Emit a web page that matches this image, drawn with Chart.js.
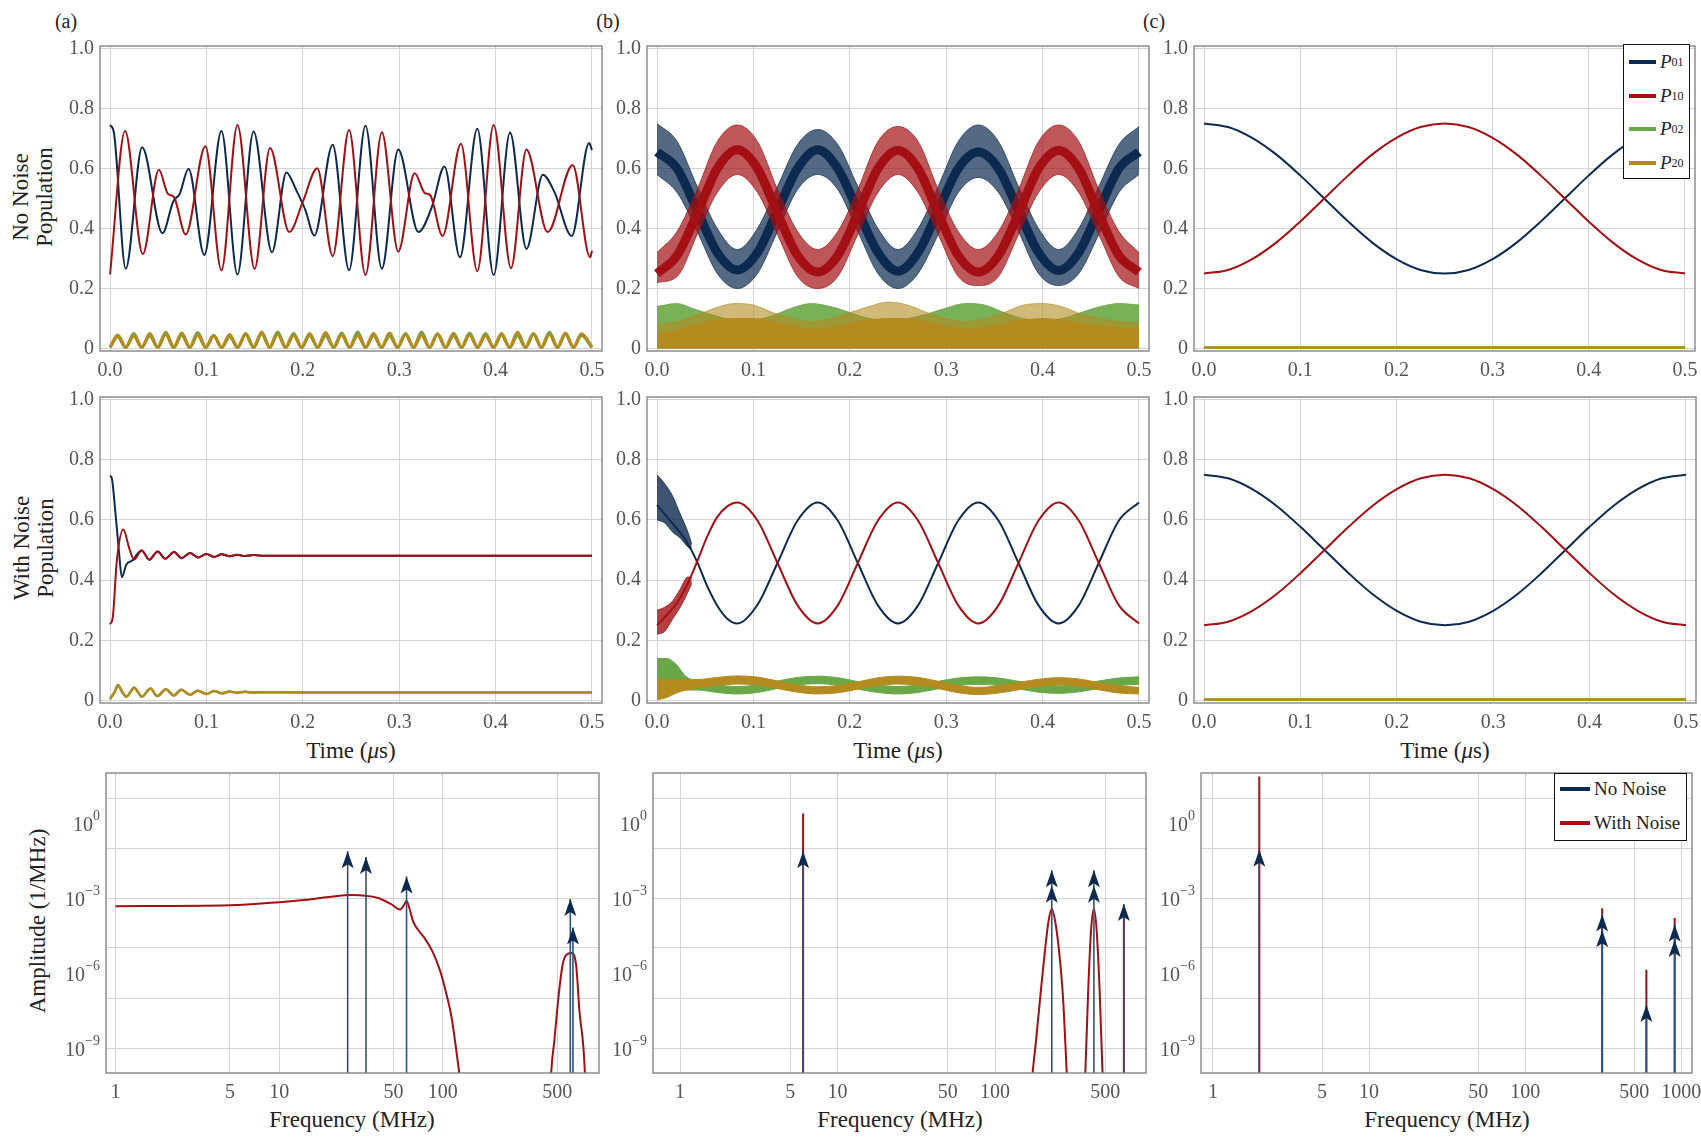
<!DOCTYPE html>
<html>
<head>
<meta charset="utf-8">
<script src="https://cdn.jsdelivr.net/npm/chart.js@4.4.1/dist/chart.umd.min.js"></script>
<style>
  body { margin: 0; background: #fff; width: 1701px; height: 1139px; position: relative; overflow: hidden;
         font-family: "Liberation Serif", "Times New Roman", serif; color: #222; }
  canvas { position: absolute; }
  .t { position: absolute; white-space: nowrap; transform: translate(-50%, -50%); font-size: 23px; line-height: 24px; text-align: center; }
  .r { transform: translate(-50%, -50%) rotate(-90deg); }
  .lab { font-size: 20px; }
  .leg { position: absolute; background: #fff; border: 1.5px solid #111; box-sizing: border-box; z-index: 5; }
  .row { position: absolute; left: 5px; height: 22px; display: flex; align-items: center; font-size: 19px; white-space: nowrap; }
  .sw { display: inline-block; height: 4px; margin-right: 4px; }
  sub { font-size: 12px; vertical-align: -3px; font-style: normal; }
</style>
</head>
<body>
<div class="t lab" style="left:66px;top:21px">(a)</div>
<div class="t lab" style="left:608px;top:21px">(b)</div>
<div class="t lab" style="left:1154px;top:21px">(c)</div>

<div class="t r" style="left:33px;top:197px">No Noise<br>Population</div>
<div class="t r" style="left:34px;top:548px">With Noise<br>Population</div>
<div class="t r" style="left:38px;top:921px">Amplitude (1/MHz)</div>

<div class="t" style="left:351px;top:751px">Time (<i>μ</i>s)</div>
<div class="t" style="left:898px;top:751px">Time (<i>μ</i>s)</div>
<div class="t" style="left:1445px;top:751px">Time (<i>μ</i>s)</div>
<div class="t" style="left:352px;top:1120px">Frequency (MHz)</div>
<div class="t" style="left:900px;top:1120px">Frequency (MHz)</div>
<div class="t" style="left:1447px;top:1120px">Frequency (MHz)</div>

<div class="leg" style="left:1623px;top:44px;width:67px;height:135px">
  <div class="row" style="top:6px"><span class="sw" style="width:27px;background:#0c2a50"></span><i>P</i><sub>01</sub></div>
  <div class="row" style="top:40px"><span class="sw" style="width:27px;background:#a30f13"></span><i>P</i><sub>10</sub></div>
  <div class="row" style="top:73px"><span class="sw" style="width:27px;background:#6aa847"></span><i>P</i><sub>02</sub></div>
  <div class="row" style="top:107px"><span class="sw" style="width:27px;background:#b38b1f"></span><i>P</i><sub>20</sub></div>
</div>
<div class="leg" style="left:1554px;top:773px;width:133px;height:68px">
  <div class="row" style="top:4px"><span class="sw" style="width:30px;background:#0c2a50"></span>No Noise</div>
  <div class="row" style="top:38px"><span class="sw" style="width:30px;background:#a30f13"></span>With Noise</div>
</div>

<script>
const NAVY = '#0c2a50', RED = '#a30f13', GREEN = '#6aa847', GOLD = '#b38b1f', STEM = '#2d5281';
const GRID = '#d4d4d4', FRAME = '#858585', TICK = '#555';
const FONT = '"Liberation Serif", "Times New Roman", serif';

// axis ticks
const timeTicks = [0, 0.1, 0.2, 0.3, 0.4, 0.5];
const popTicks = [0, 0.2, 0.4, 0.6, 0.8, 1.0];
const freqTicksAB = [1, 5, 10, 50, 100, 500];
const freqTicksC = [1, 5, 10, 50, 100, 500, 1000];
const ampGrid = [1e-9, 1e-7, 1e-5, 1e-3, 1e-1, 1e1];
const ampLabelPowers = [0, -3, -6, -9];

// (a) no noise: [t, P]
const aTopP01 = [[0,0.745],[0.004,0.72],[0.0163,0.266],[0.0333,0.671],[0.0544,0.384],[0.0656,0.49],[0.0722,0.515],[0.0815,0.599],
  [0.0978,0.312],[0.1156,0.725],[0.1322,0.247],[0.1489,0.723],[0.168,0.321],[0.183,0.587],[0.1933,0.527],[0.2026,0.462],[0.212,0.377],
  [0.231,0.679],[0.248,0.261],[0.265,0.742],[0.282,0.266],[0.299,0.663],[0.32,0.388],[0.334,0.473],[0.347,0.607],[0.363,0.304],
  [0.381,0.732],[0.398,0.245],[0.415,0.72],[0.432,0.332],[0.449,0.579],[0.461,0.522],[0.479,0.375],[0.497,0.685],[0.5,0.661]];
const aTopP10 = [[0,0.247],[0.0156,0.725],[0.034,0.315],[0.0507,0.596],[0.06,0.516],[0.0663,0.505],[0.0785,0.38],[0.0989,0.674],
  [0.1156,0.261],[0.1322,0.745],[0.15,0.266],[0.166,0.668],[0.186,0.388],[0.2,0.489],[0.215,0.601],[0.231,0.308],[0.248,0.728],
  [0.265,0.245],[0.282,0.721],[0.299,0.323],[0.316,0.584],[0.3267,0.518],[0.3322,0.511],[0.345,0.375],[0.364,0.682],[0.381,0.258],
  [0.398,0.745],[0.416,0.268],[0.432,0.663],[0.454,0.388],[0.48,0.612],[0.498,0.304],[0.5,0.326]];
const aTopPeakT = [0.008,0.0246,0.0412,0.0578,0.0744,0.091,0.1075,0.1241,0.1407,0.1573,0.1739,0.1905,0.2071,0.2237,0.2403,
  0.2569,0.2734,0.29,0.3066,0.3232,0.3398,0.3564,0.373,0.3896,0.4062,0.4228,0.4393,0.4559,0.4725,0.4891];
const aTopTroughT = [0,0.0163,0.0329,0.0495,0.0661,0.0827,0.0993,0.1158,0.1324,0.149,0.1656,0.1822,0.1988,0.2154,0.232,0.2486,
  0.2652,0.2817,0.2983,0.3149,0.3315,0.3481,0.3647,0.3813,0.3979,0.4145,0.4311,0.4476,0.4642,0.4808,0.5];
const aTopP02Peak = [0.04,0.05,0.042,0.054,0.045,0.053,0.044,0.04,0.047,0.05,0.055,0.05,0.044,0.043,0.052,0.055,0.045,0.042,
  0.05,0.055,0.048,0.044,0.052,0.05,0.046,0.043,0.05,0.054,0.047,0.044];
const aTopP20Peak = [0.045,0.042,0.05,0.048,0.052,0.045,0.043,0.047,0.05,0.055,0.048,0.045,0.05,0.053,0.046,0.044,0.05,0.052,
  0.047,0.045,0.049,0.051,0.046,0.045,0.05,0.054,0.048,0.047,0.052,0.049];
const aTopTrough = 0.004;

// (a) with noise
const aMidP01 = [[0,0.747],[0.002,0.737],[0.005,0.645],[0.009,0.505],[0.0123,0.41],[0.017,0.452],[0.023,0.465]];
const aMidP10 = [[0,0.253],[0.003,0.28],[0.007,0.462],[0.0138,0.568],[0.02,0.505],[0.025,0.468]];
const aMidTail = [[0.0328,0.498],[0.0407,0.468],[0.0494,0.495],[0.0573,0.471],[0.0664,0.493],[0.0743,0.473],[0.083,0.49],
  [0.0913,0.475],[0.1,0.487],[0.108,0.477],[0.116,0.486],[0.124,0.479],[0.132,0.484],[0.14,0.48],[0.149,0.483],[0.16,0.481],
  [0.2,0.481],[0.5,0.481]];
const aMidP20 = [[0,0.005],[0.005,0.03],[0.0083,0.052],[0.012,0.032],[0.017,0.013],[0.025,0.043],[0.033,0.013],[0.042,0.04],
  [0.049,0.015],[0.058,0.038],[0.066,0.017],[0.074,0.036],[0.083,0.019],[0.091,0.033],[0.1,0.022],[0.108,0.032],[0.116,0.024],
  [0.124,0.03],[0.132,0.026],[0.14,0.029],[0.149,0.027],[0.16,0.028],[0.2,0.027],[0.5,0.027]];

// (b) no noise: fast-oscillating bands [t, low, middle, high]
const bTopP01 = [[0,0.58,0.655,0.75],[0.0208,0.52,0.6,0.69],[0.0417,0.39,0.46,0.54],[0.0625,0.25,0.32,0.4],[0.0833,0.2,0.262,0.33],
  [0.1042,0.25,0.32,0.4],[0.125,0.39,0.46,0.54],[0.1458,0.53,0.6,0.68],[0.1667,0.58,0.662,0.73],[0.1875,0.53,0.6,0.68],
  [0.2083,0.39,0.46,0.54],[0.2292,0.25,0.32,0.4],[0.25,0.2,0.258,0.33],[0.2708,0.25,0.32,0.4],[0.2917,0.38,0.46,0.54],
  [0.3125,0.52,0.6,0.69],[0.3333,0.57,0.655,0.745],[0.3542,0.52,0.6,0.69],[0.375,0.39,0.46,0.54],[0.3958,0.25,0.32,0.4],
  [0.4167,0.21,0.26,0.33],[0.4375,0.25,0.32,0.4],[0.4583,0.38,0.46,0.54],[0.4792,0.52,0.6,0.68],[0.5,0.58,0.655,0.74]];
const bTopP10 = [[0,0.22,0.25,0.32],[0.0208,0.24,0.31,0.39],[0.0417,0.38,0.45,0.53],[0.0625,0.52,0.6,0.69],[0.0833,0.58,0.662,0.745],
  [0.1042,0.52,0.6,0.69],[0.125,0.38,0.45,0.53],[0.1458,0.24,0.31,0.39],[0.1667,0.2,0.255,0.33],[0.1875,0.24,0.31,0.39],
  [0.2083,0.38,0.45,0.53],[0.2292,0.52,0.6,0.69],[0.25,0.58,0.66,0.74],[0.2708,0.52,0.6,0.69],[0.2917,0.38,0.45,0.53],
  [0.3125,0.24,0.31,0.39],[0.3333,0.21,0.255,0.33],[0.3542,0.24,0.31,0.39],[0.375,0.38,0.45,0.53],[0.3958,0.52,0.6,0.69],
  [0.4167,0.58,0.66,0.745],[0.4375,0.52,0.6,0.69],[0.4583,0.38,0.45,0.53],[0.4792,0.24,0.31,0.39],[0.5,0.2,0.255,0.32]];
const bTopT = [0,0.02,0.04,0.06,0.08,0.1,0.12,0.14,0.16,0.18,0.2,0.22,0.24,0.26,0.28,0.3,0.32,0.34,0.36,0.38,0.4,0.42,0.44,0.46,0.48,0.5];
const bTopP02High = [0.14,0.15,0.13,0.11,0.095,0.095,0.11,0.135,0.15,0.14,0.12,0.1,0.095,0.1,0.115,0.135,0.15,0.145,0.12,0.1,0.095,0.1,0.12,0.14,0.15,0.145];
const bTopP20High = [0.08,0.09,0.11,0.135,0.15,0.145,0.12,0.1,0.09,0.1,0.12,0.14,0.155,0.145,0.12,0.1,0.09,0.1,0.12,0.145,0.15,0.14,0.115,0.1,0.09,0.085];
const bTopP20Core = [0.05,0.06,0.08,0.095,0.1,0.1,0.09,0.075,0.065,0.07,0.085,0.095,0.1,0.1,0.09,0.075,0.065,0.07,0.085,0.095,0.1,0.095,0.085,0.075,0.07,0.065];

// (b) with noise
const bMidP01 = [[0,0.65],[0.0104,0.61],[0.0208,0.57],[0.0313,0.525],[0.0417,0.46],[0.0521,0.38],[0.0625,0.315],[0.0729,0.272],
  [0.0833,0.256],[0.1042,0.318],[0.125,0.457],[0.1458,0.598],[0.1667,0.658],[0.1875,0.598],[0.2083,0.457],[0.2292,0.316],
  [0.25,0.256],[0.2708,0.316],[0.2917,0.457],[0.3125,0.598],[0.3333,0.658],[0.3542,0.598],[0.375,0.457],[0.3958,0.316],
  [0.4167,0.256],[0.4375,0.316],[0.4583,0.457],[0.4792,0.598],[0.5,0.658]];
const bMidP10 = [[0,0.25],[0.0104,0.285],[0.0208,0.325],[0.0313,0.385],[0.0417,0.462],[0.0521,0.545],[0.0625,0.61],[0.0729,0.645],
  [0.0833,0.658],[0.1042,0.598],[0.125,0.457],[0.1458,0.316],[0.1667,0.256],[0.1875,0.316],[0.2083,0.457],[0.2292,0.598],
  [0.25,0.658],[0.2708,0.598],[0.2917,0.457],[0.3125,0.316],[0.3333,0.256],[0.3542,0.316],[0.375,0.457],[0.3958,0.598],
  [0.4167,0.658],[0.4375,0.598],[0.4583,0.457],[0.4792,0.316],[0.5,0.256]];
const bMidP01Early = [[0,0.6,0.75],[0.008,0.59,0.72],[0.016,0.56,0.68],[0.024,0.54,0.62],[0.032,0.51,0.56],[0.036,0.5,0.52]];
const bMidP10Early = [[0,0.22,0.3],[0.008,0.23,0.31],[0.016,0.27,0.33],[0.024,0.31,0.37],[0.032,0.36,0.41],[0.036,0.39,0.41]];
const bMidP02 = [[0,0.02,0.14],[0.01,0.025,0.14],[0.02,0.03,0.12],[0.03,0.035,0.08],[0.0417,0.035,0.065],[0.0625,0.027,0.052],
  [0.0833,0.022,0.047],[0.1042,0.027,0.052],[0.125,0.04,0.065],[0.1458,0.052,0.077],[0.1667,0.056,0.081],[0.1875,0.051,0.076],
  [0.2083,0.038,0.063],[0.2292,0.027,0.052],[0.25,0.022,0.047],[0.2708,0.027,0.052],[0.2917,0.039,0.064],[0.3125,0.05,0.075],
  [0.3333,0.054,0.079],[0.3542,0.05,0.075],[0.375,0.039,0.064],[0.3958,0.028,0.053],[0.4167,0.024,0.049],[0.4375,0.029,0.054],
  [0.4583,0.04,0.065],[0.4792,0.05,0.075],[0.5,0.054,0.079]];
const bMidP20 = [[0,0.003,0.075],[0.01,0.01,0.07],[0.02,0.025,0.07],[0.03,0.035,0.07],[0.0417,0.042,0.07],[0.0625,0.05,0.077],
  [0.0833,0.055,0.082],[0.1042,0.052,0.078],[0.125,0.04,0.065],[0.1458,0.028,0.052],[0.1667,0.022,0.046],[0.1875,0.026,0.05],
  [0.2083,0.038,0.062],[0.2292,0.05,0.076],[0.25,0.055,0.081],[0.2708,0.051,0.077],[0.2917,0.04,0.064],[0.3125,0.026,0.05],
  [0.3333,0.02,0.044],[0.3542,0.025,0.049],[0.375,0.036,0.06],[0.3958,0.047,0.071],[0.4167,0.052,0.076],[0.4375,0.048,0.072],
  [0.4583,0.036,0.06],[0.4792,0.025,0.049],[0.5,0.022,0.044]];

// (c) both rows
const cT = [0,0.025,0.05,0.075,0.1,0.125,0.15,0.175,0.2,0.225,0.25,0.275,0.3,0.325,0.35,0.375,0.4,0.425,0.45,0.475,0.5];
const cP01 = [0.75,0.738,0.702,0.647,0.577,0.5,0.423,0.353,0.298,0.262,0.25,0.262,0.298,0.353,0.423,0.5,0.577,0.647,0.702,0.738,0.75];
const cP10 = [0.25,0.262,0.298,0.353,0.423,0.5,0.577,0.647,0.702,0.738,0.75,0.738,0.702,0.647,0.577,0.5,0.423,0.353,0.298,0.262,0.25];
const cP02 = [[0,0.004],[0.5,0.004]];
const cP20 = [[0,0.004],[0.5,0.004]];

// spectra: frequency (MHz), amplitude (1/MHz)
const a3Freq = [26.2, 33.9, 60, 601, 624];
const a3Amp = [7.4e-2, 4.4e-2, 7.2e-3, 9.1e-4, 6.6e-5];
const a3NoiseLow = [[1,4.7e-4],[5,5.1e-4],[10,6.8e-4],[14.6,8.5e-4],[20,1.1e-3],[28,1.32e-3],[33.8,1.23e-3],[40.7,9.8e-4],
  [48,5.8e-4],[54.8,3.5e-4],[57.6,5.0e-4],[60,7.8e-4],[62.6,3.7e-4],[66,1.1e-4],[69.6,6.0e-5],[77.6,2.4e-5],[86.5,7.2e-6],
  [96.3,1.2e-6],[104,1.9e-7],[113,1.7e-8],[126,1e-10],[132,1e-11]];
const a3NoiseHump = [[452,1e-11],[459,1e-10],[480,2e-9],[514,2e-7],[539,2.1e-6],[566,5.2e-6],[611,6.3e-6],[652,2.1e-6],
  [683,3.2e-8],[738,1e-10],[745,1e-11]];

const b3Freq = [6.04, 229, 229, 424, 424, 657];
const b3Amp = [7.4e-2, 1.3e-2, 3.1e-3, 1.3e-2, 3.1e-3, 5.8e-4];
const b3NoiseFreq = [6.04, 657];
const b3NoiseAmp = [2.4, 5e-4];
const b3NoiseHump1 = [[168,1e-11],[173,1e-10],[182,2e-9],[197,3.5e-7],[207,7.2e-6],[218,1.1e-4],[229,3.7e-4],[241,1.1e-4],
  [255,7.2e-6],[270,1e-7],[285,1e-10],[290,1e-11]];
const b3NoiseHump2 = [[370,1e-11],[374,1e-10],[390,2e-7],[406,4.4e-5],[424,3.7e-4],[442,4.4e-5],[461,2e-7],[481,1e-10],[486,1e-11]];

const c3Freq = [1.98, 311, 311, 597, 906, 906];
const c3Amp = [8.5e-2, 2.2e-4, 5.1e-5, 5.2e-8, 8.5e-5, 2.1e-5];
const c3NoiseFreq = [1.98, 311, 597, 906];
const c3NoiseAmp = [72, 3.9e-4, 1.35e-6, 1.6e-4];

// layout (plot area edges in page pixels: left, top, right, bottom)
const Y_W = 62, X_H = 34, PAD_T = 14, PAD_R = 18;
const rects = {
  a1: [100, 42, 602, 351], b1: [647, 42, 1149, 351], c1: [1194, 42, 1695, 351],
  a2: [100, 393, 602, 703], b2: [647, 393, 1149, 703], c2: [1194, 393, 1696, 703],
  a3: [106, 769, 599, 1073], b3: [653, 769, 1146, 1073], c3: [1201, 769, 1692, 1073]
};

function rgba(hex, a) {
  const n = parseInt(hex.slice(1), 16);
  return `rgba(${n >> 16},${(n >> 8) & 255},${n & 255},${a})`;
}
const xy = pts => pts.map(p => ({ x: p[0], y: p[1] }));
const zip = (xs, ys) => xs.map((x, i) => [x, ys[i]]);

function line(pts, color, width) {
  return { data: xy(pts), borderColor: color, borderWidth: width, fill: false };
}
function band(rows, color, alpha) {
  return [
    { data: rows.map(r => ({ x: r[0], y: r[r.length - 1] })), borderColor: rgba(color, alpha), borderWidth: 1, fill: false },
    { data: rows.map(r => ({ x: r[0], y: r[1] })), borderColor: rgba(color, alpha), borderWidth: 1, fill: '-1', backgroundColor: rgba(color, alpha) }
  ];
}
function toOrigin(pts, color, alpha) {
  return { data: xy(pts), borderColor: rgba(color, alpha), borderWidth: 1, fill: 'origin', backgroundColor: rgba(color, alpha) };
}
function humps(peaks) {
  const pts = [[aTopTroughT[0], aTopTrough]];
  aTopPeakT.forEach((t, i) => { pts.push([t, peaks[i]]); pts.push([aTopTroughT[i + 1], aTopTrough]); });
  return pts;
}
function stems(freq, amp, color, width) {
  const data = [];
  freq.forEach((f, i) => data.push({ x: f, y: 1e-12 }, { x: f, y: amp[i] }, { x: f, y: null }));
  return { data, borderColor: color, borderWidth: width, tension: 0, cubicInterpolationMode: 'default', spanGaps: false, fill: false };
}
function heads(freq, amp) {
  return { data: zip(freq, amp).map(p => ({ x: p[0], y: p[1] })), showLine: false, pointRadius: 0, arrow: true };
}

const frame = {
  id: 'frame',
  afterDatasetsDraw(chart) {
    const a = chart.chartArea, ctx = chart.ctx;
    ctx.save();
    ctx.strokeStyle = FRAME; ctx.lineWidth = 1.4;
    ctx.strokeRect(a.left, a.top, a.right - a.left, a.bottom - a.top);
    ctx.restore();
  }
};
const arrows = {
  id: 'arrows',
  afterDatasetsDraw(chart) {
    const ctx = chart.ctx;
    chart.data.datasets.forEach((ds, i) => {
      if (!ds.arrow) return;
      chart.getDatasetMeta(i).data.forEach(el => {
        ctx.save();
        ctx.fillStyle = NAVY;
        ctx.beginPath();
        ctx.moveTo(el.x, el.y);
        ctx.lineTo(el.x + 6, el.y + 17);
        ctx.lineTo(el.x, el.y + 13);
        ctx.lineTo(el.x - 6, el.y + 17);
        ctx.closePath();
        ctx.fill();
        ctx.restore();
      });
    });
  }
};
const powerLabels = {
  id: 'powerLabels',
  afterDraw(chart) {
    const y = chart.scales.y, ctx = chart.ctx;
    const right = chart.chartArea.left - 6;
    ctx.save();
    ctx.fillStyle = TICK;
    ctx.textBaseline = 'middle';
    ctx.textAlign = 'left';
    ampLabelPowers.forEach(e => {
      const py = y.getPixelForValue(Math.pow(10, e));
      const sup = e < 0 ? '\u2212' + (-e) : String(e);
      ctx.font = '14px ' + FONT;
      const sw = ctx.measureText(sup).width;
      ctx.font = '20px ' + FONT;
      const bw = ctx.measureText('10').width;
      ctx.fillText('10', right - sw - bw, py + 3);
      ctx.font = '14px ' + FONT;
      ctx.fillText(sup, right - sw, py - 7);
    });
    ctx.restore();
  }
};

function mkCanvas(r) {
  const [L, T, R, B] = r;
  const c = document.createElement('canvas');
  const w = R - L + Y_W + PAD_R, h = B - T + PAD_T + X_H;
  c.width = w; c.height = h;
  c.style.left = (L - Y_W) + 'px'; c.style.top = (T - PAD_T) + 'px';
  c.style.width = w + 'px'; c.style.height = h + 'px';
  document.body.appendChild(c);
  return c;
}

const tickFont = { family: FONT, size: 20 };

function draw(r, datasets, xScale, yScale, extra) {
  datasets.forEach((d, i) => {
    d.order = datasets.length - i;
    d.pointRadius = d.pointRadius || 0;
    if (!d.cubicInterpolationMode) d.cubicInterpolationMode = 'monotone';
  });
  new Chart(mkCanvas(r), {
    type: 'line',
    data: { datasets },
    options: {
      responsive: false, animation: false, events: [],
      layout: { padding: { left: 0, top: PAD_T, right: PAD_R, bottom: 0 } },
      plugins: { legend: { display: false }, tooltip: { enabled: false } },
      scales: { x: xScale, y: yScale }
    },
    plugins: [frame].concat(extra || [])
  });
}

function timeX() {
  return {
    type: 'linear', min: -0.0104, max: 0.5104,
    afterBuildTicks: s => { s.ticks = timeTicks.map(v => ({ value: v })); },
    afterFit: s => { s.height = X_H; },
    ticks: { callback: v => v.toFixed(1), font: tickFont, color: TICK, padding: 8, autoSkip: false, maxRotation: 0 },
    grid: { color: GRID, drawTicks: false }, border: { display: false }
  };
}
function popY() {
  return {
    type: 'linear', min: -0.008, max: 1.008,
    afterBuildTicks: s => { s.ticks = popTicks.map(v => ({ value: v })); },
    afterFit: s => { s.width = Y_W; },
    ticks: { callback: v => (v === 0 ? '0' : v.toFixed(1)), font: tickFont, color: TICK, padding: 6 },
    grid: { color: GRID, drawTicks: false }, border: { display: false }
  };
}
function freqX(min, max, ticks) {
  return {
    type: 'logarithmic', min, max,
    afterBuildTicks: s => { s.ticks = ticks.map(v => ({ value: v })); },
    afterFit: s => { s.height = X_H; },
    ticks: { callback: v => String(v), font: tickFont, color: TICK, padding: 8, autoSkip: false, maxRotation: 0 },
    grid: { color: GRID, drawTicks: false }, border: { display: false }
  };
}
function ampY() {
  return {
    type: 'logarithmic', min: 1e-10, max: 1e2,
    afterBuildTicks: s => { s.ticks = ampGrid.map(v => ({ value: v })); },
    afterFit: s => { s.width = Y_W; },
    ticks: { callback: () => '', font: tickFont, color: TICK, padding: 6 },
    grid: { color: GRID, drawTicks: false }, border: { display: false }
  };
}

function drawAll() {
  // row 1: no noise
  draw(rects.a1, [
    line(humps(aTopP02Peak), GREEN, 3.2),
    line(humps(aTopP20Peak), GOLD, 3.2),
    line(aTopP01, NAVY, 2),
    line(aTopP10, RED, 2)
  ], timeX(), popY());

  draw(rects.b1, [
    toOrigin(zip(bTopT, bTopP02High), GREEN, 0.9),
    toOrigin(zip(bTopT, bTopP20High), GOLD, 0.6),
    toOrigin(zip(bTopT, bTopP20Core), GOLD, 1),
    ...band(bTopP01, NAVY, 0.7),
    line(bTopP01.map(r => [r[0], r[2]]), NAVY, 9),
    ...band(bTopP10, RED, 0.7),
    line(bTopP10.map(r => [r[0], r[2]]), RED, 9)
  ], timeX(), popY());

  draw(rects.c1, [
    line(cP02, GREEN, 2.5),
    line(cP20, GOLD, 2.5),
    line(zip(cT, cP01), NAVY, 2),
    line(zip(cT, cP10), RED, 2)
  ], timeX(), popY());

  // row 2: with noise
  draw(rects.a2, [
    line(aMidP20, GREEN, 2.5),
    line(aMidP20, GOLD, 2.5),
    line(aMidP01.concat(aMidTail), NAVY, 2),
    line(aMidP10.concat(aMidTail), RED, 2)
  ], timeX(), popY());

  draw(rects.b2, [
    ...band(bMidP02, GREEN, 1),
    ...band(bMidP20, GOLD, 1),
    ...band(bMidP01Early, NAVY, 0.8),
    line(bMidP01, NAVY, 2),
    ...band(bMidP10Early, RED, 0.8),
    line(bMidP10, RED, 2)
  ], timeX(), popY());

  draw(rects.c2, [
    line(cP02, GREEN, 2.5),
    line(cP20, GOLD, 2.5),
    line(zip(cT, cP01), NAVY, 2),
    line(zip(cT, cP10), RED, 2)
  ], timeX(), popY());

  // row 3: spectra
  draw(rects.a3, [
    line(a3NoiseLow, RED, 2),
    line(a3NoiseHump, RED, 2),
    stems(a3Freq, a3Amp, STEM, 1.6),
    heads(a3Freq, a3Amp)
  ], freqX(0.874, 900, freqTicksAB), ampY(), [arrows, powerLabels]);

  draw(rects.b3, [
    stems(b3NoiseFreq, b3NoiseAmp, RED, 2),
    line(b3NoiseHump1, RED, 2),
    line(b3NoiseHump2, RED, 2),
    stems(b3Freq, b3Amp, STEM, 1.6),
    heads(b3Freq, b3Amp)
  ], freqX(0.673, 908, freqTicksAB), ampY(), [arrows, powerLabels]);

  draw(rects.c3, [
    stems(c3NoiseFreq, c3NoiseAmp, RED, 2),
    stems(c3Freq, c3Amp, STEM, 1.6),
    heads(c3Freq, c3Amp)
  ], freqX(0.838, 1170, freqTicksC), ampY(), [arrows, powerLabels]);
}

// make sure the serif face is ready before the canvases draw text
Promise.all([
  document.fonts.load('20px "Liberation Serif"'),
  document.fonts.load('14px "Liberation Serif"')
]).then(drawAll, drawAll);
</script>
</body>
</html>
